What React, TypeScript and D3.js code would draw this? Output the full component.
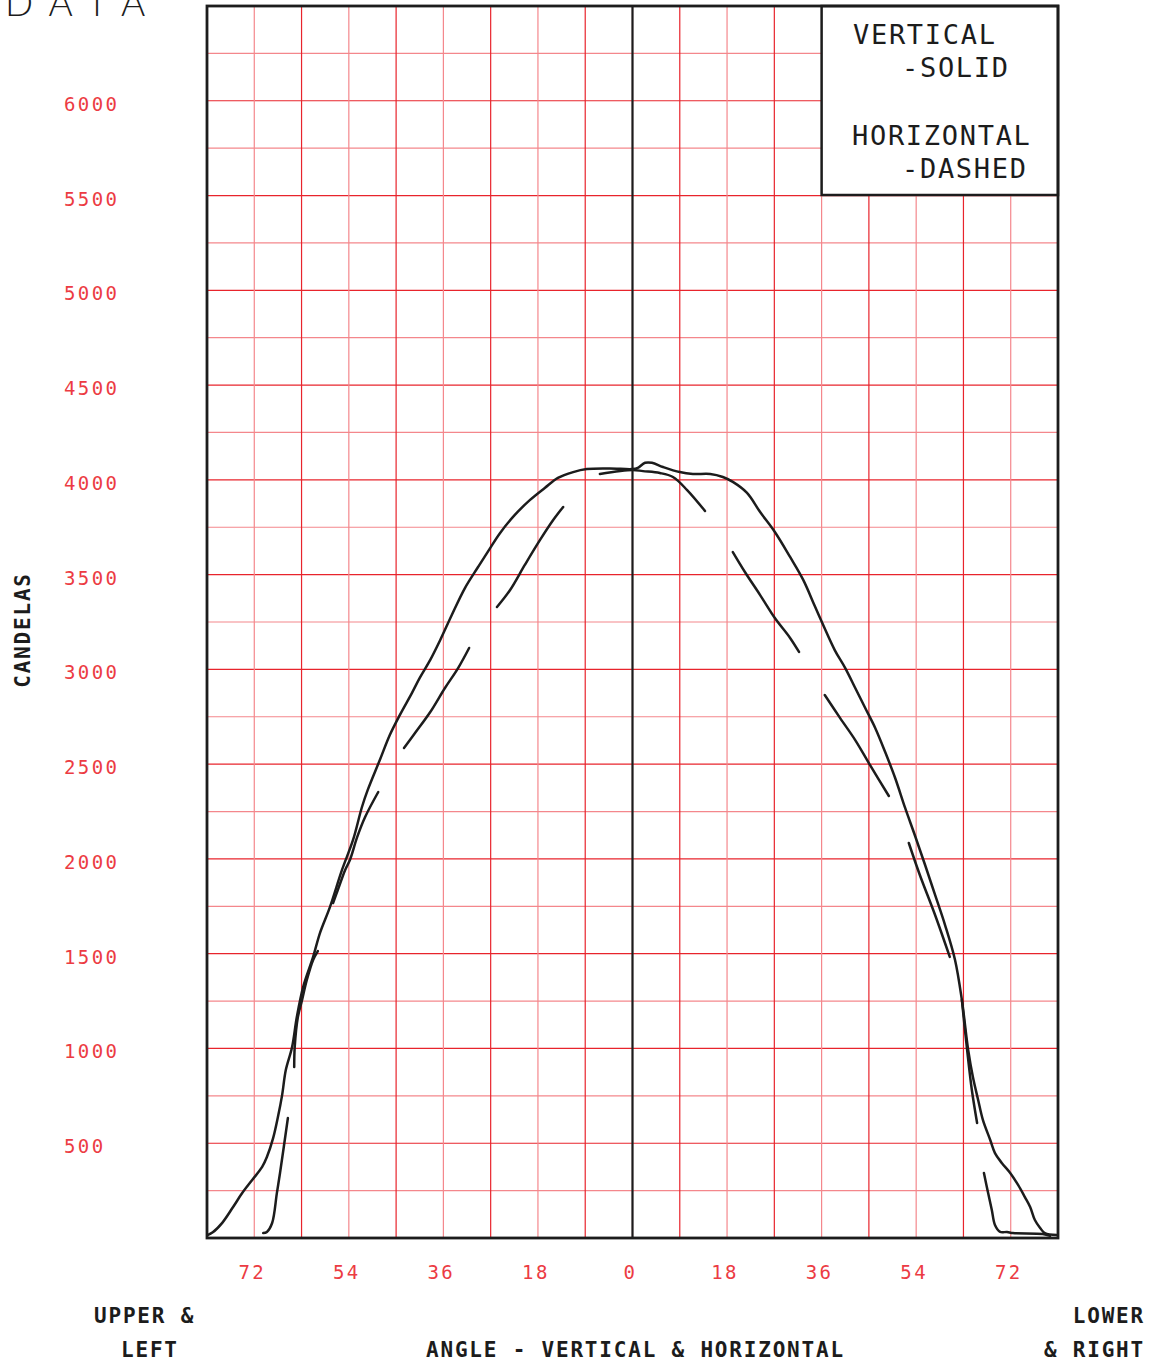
import * as d3 from 'd3'

// photometric chart: candelas vs angle
const Y_TICKS = [500, 1000, 1500, 2000, 2500, 3000, 3500, 4000, 4500, 5000, 5500, 6000]
const X_TICKS = [-72, -54, -36, -18, 0, 18, 36, 54, 72]

// vertical distribution (solid), [angle, candelas]
const VERTICAL: [number, number][] = [
  [-80.9, 15], [-79.9, 30], [-78.1, 80], [-76.0, 165], [-74.3, 237], [-72.4, 306],
  [-70.5, 375], [-69.6, 427], [-68.4, 528], [-67.5, 638], [-66.7, 754], [-66.0, 886],
  [-64.8, 1008], [-63.9, 1166], [-62.7, 1324], [-60.8, 1483], [-59.5, 1609], [-57.6, 1746],
  [-55.3, 1942], [-53.2, 2100], [-51.5, 2274], [-50.4, 2364], [-48.1, 2522], [-46.2, 2654],
  [-44.3, 2759], [-42.0, 2875], [-40.5, 2955], [-38.5, 3050], [-36.6, 3155], [-34.4, 3287],
  [-31.9, 3429], [-29.4, 3540], [-27.1, 3640], [-25.2, 3720], [-22.4, 3815], [-19.5, 3894],
  [-16.7, 3957], [-14.2, 4010], [-11.3, 4041], [-8.7, 4057], [-4.3, 4060], [0, 4057],
  [1.0, 4063], [2.4, 4090], [3.7, 4090], [5.8, 4068], [9.0, 4041], [11.5, 4031],
  [14.8, 4031], [17.2, 4015], [19.1, 3989], [21.8, 3931], [24.3, 3830], [27.1, 3725],
  [30.0, 3593], [32.5, 3472], [34.7, 3334], [36.3, 3234], [38.5, 3102], [40.5, 3007],
  [42.4, 2902], [44.3, 2796], [46.2, 2691], [48.1, 2564], [50.0, 2427], [51.9, 2269],
  [53.8, 2121], [55.7, 1968], [57.6, 1810], [59.5, 1651], [61.4, 1467], [62.7, 1256],
  [63.9, 992], [64.8, 849], [65.8, 728], [66.7, 623], [68.1, 517], [69.0, 448],
  [70.3, 396], [71.9, 343], [73.4, 280], [74.7, 216], [75.7, 164], [76.6, 95],
  [77.6, 53], [78.5, 26], [80.8, 16],
]

// horizontal distribution (dashed), one array per drawn dash
const HORIZONTAL_DASHES: [number, number][][] = [
  [[-70.3, 26], [-69.6, 32], [-68.6, 79], [-67.7, 237], [-67.1, 343], [-65.6, 633]],
  [[-64.4, 902], [-64.3, 1008], [-63.7, 1166], [-62.9, 1256], [-62.0, 1361], [-60.8, 1467], [-59.9, 1514]],
  [[-57.0, 1767], [-56.1, 1836], [-54.7, 1942], [-53.8, 1994], [-52.4, 2116], [-50.9, 2221], [-48.4, 2353]],
  [[-43.5, 2585], [-41.4, 2664], [-38.5, 2775], [-35.7, 2902], [-33.2, 3007], [-31.1, 3113]],
  [[-25.8, 3329], [-23.3, 3419], [-20.5, 3551], [-17.6, 3683], [-15.1, 3788], [-13.2, 3857]],
  [[-6.2, 4031], [0, 4052], [2.0, 4046], [5.2, 4036], [7.7, 4015], [10.4, 3946], [13.8, 3836]],
  [[19.1, 3619], [21.4, 3514], [24.3, 3392], [27.1, 3271], [30.0, 3166], [31.7, 3092]],
  [[36.6, 2865], [39.5, 2744], [42.4, 2627], [45.2, 2496], [48.8, 2332]],
  [[52.6, 2084], [54.7, 1915], [57.6, 1704], [60.4, 1483]],
  [[62.7, 1256], [63.7, 992], [64.6, 781], [65.6, 607]],
  [[66.9, 343], [67.7, 237], [68.4, 148], [69.0, 69], [70.0, 32], [71.3, 32], [72.4, 26], [78.1, 21], [79.5, 11]],
]

const RED = '#e8242c'
const LIGHT_RED = '#f4878c'
const TEXT_RED = '#ec3b43'
const INK = '#1c1c1c'
const MONO = "'DejaVu Sans Mono', monospace"

export default function App() {
  const width = 1159
  const height = 1364
  const left = 207, right = 1058, top = 6, bottom = 1238

  const x = d3.scaleLinear().domain([-81, 81]).range([left, right])
  const y = d3.scaleLinear().domain([0, 6500]).range([bottom, top])

  const line = d3.line<[number, number]>()
    .x((d) => x(d[0]))
    .y((d) => y(d[1]))
    .curve(d3.curveCatmullRom.alpha(0.5))

  const vLines = d3.range(-81, 82, 9)
  const hLines = d3.range(250, 6500, 250)

  return (
    <svg width={width} height={height} style={{ position: 'absolute', left: 0, top: 0, background: '#fff' }}>
      {/* title, cut off at the top like the scan */}
      <text x={5} y={15.5} fontFamily="Lato, 'DejaVu Sans', sans-serif" fontWeight={300}
        fontSize={37} letterSpacing={16} fill={INK}>DATA</text>

      {/* grid */}
      {hLines.map((v) => (
        <line key={'h' + v} x1={left} x2={right} y1={y(v)} y2={y(v)}
          stroke={v % 500 === 0 ? RED : LIGHT_RED} strokeWidth={1.2} />
      ))}
      {vLines.map((a) => (
        <line key={'v' + a} x1={x(a)} x2={x(a)} y1={top} y2={bottom}
          stroke={a % 18 === 0 ? LIGHT_RED : RED} strokeWidth={1.2} />
      ))}
      <line x1={x(0)} x2={x(0)} y1={top} y2={bottom} stroke={INK} strokeWidth={2.2} />

      {/* curves */}
      <path d={line(VERTICAL) ?? ''} fill="none" stroke={INK} strokeWidth={2.5} strokeLinecap="round" />
      {HORIZONTAL_DASHES.map((seg, i) => (
        <path key={'d' + i} d={line(seg) ?? ''} fill="none" stroke={INK} strokeWidth={2.5} strokeLinecap="round" />
      ))}

      {/* legend box */}
      <rect x={x(36)} y={top} width={right - x(36)} height={189} fill="#fff" stroke={INK} strokeWidth={2.5} />
      <g fontFamily={MONO} fontSize={27} letterSpacing={1.7} fill={INK}>
        <text x={853} y={44}>VERTICAL</text>
        <text x={902} y={77}>-SOLID</text>
        <text x={852} y={145}>HORIZONTAL</text>
        <text x={902} y={178}>-DASHED</text>
      </g>

      {/* frame */}
      <rect x={left} y={top} width={right - left} height={bottom - top} fill="none" stroke={INK} strokeWidth={2.8} />

      {/* y ticks */}
      <g fontFamily={MONO} fontSize={19} letterSpacing={2.4} fill={TEXT_RED}>
        {Y_TICKS.map((v) => (
          <text key={'yt' + v} x={64} y={y(v) + 10}>{v}</text>
        ))}
      </g>
      {/* x ticks */}
      <g fontFamily={MONO} fontSize={19} letterSpacing={2.4} fill={TEXT_RED} textAnchor="middle">
        {X_TICKS.map((a) => (
          <text key={'xt' + a} x={x(a) - 2} y={1279}>{Math.abs(a)}</text>
        ))}
      </g>

      {/* axis titles */}
      <g fontFamily={MONO} fontSize={21} letterSpacing={1.8} fontWeight="bold" fill={INK}>
        <text transform="translate(30,630) rotate(-90)" textAnchor="middle">CANDELAS</text>
        <text x={94} y={1323}>UPPER &amp;</text>
        <text x={121} y={1357}>LEFT</text>
        <text x={426} y={1357}>ANGLE - VERTICAL &amp; HORIZONTAL</text>
        <text x={1145} y={1323} textAnchor="end">LOWER</text>
        <text x={1145} y={1357} textAnchor="end">&amp; RIGHT</text>
      </g>
    </svg>
  )
}
